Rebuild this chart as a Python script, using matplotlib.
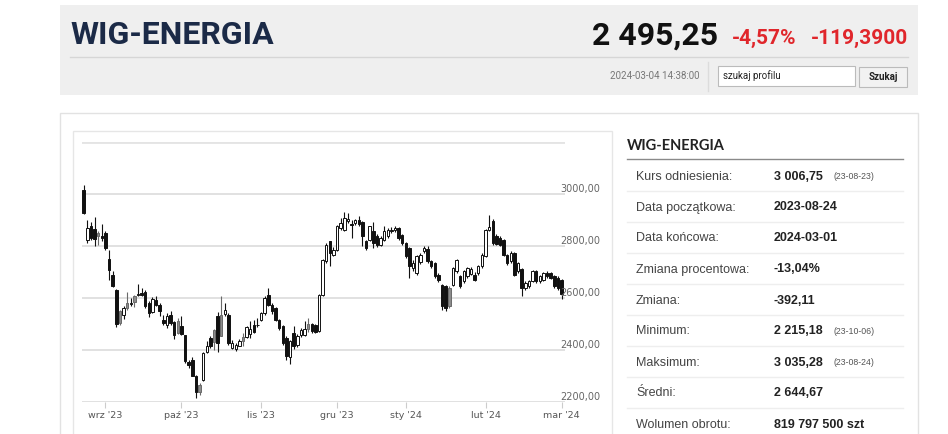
import pandas as pd
import matplotlib
matplotlib.use('Agg')
import matplotlib.pyplot as plt
from matplotlib.patches import Rectangle
from matplotlib.lines import Line2D

W, H = 948, 434

# notowania dzienne WIG-ENERGIA
opens = [3017, 2824, 2876, 2867, 2850, 2840, 2850, 2750, 2690, 2632,
         2549, 2536, 2581, 2576, 2606, 2612, 2619, 2623, 2581, 2546,
         2594, 2575, 2517, 2497, 2536, 2506, 2510, 2491, 2456, 2354,
         2363, 2301, 2267, 2283, 2391, 2446, 2478, 2530, 2536, 2540,
         2536, 2408, 2402, 2417, 2450, 2450, 2462, 2497, 2495, 2517,
         2542, 2613, 2574, 2561, 2517, 2491, 2446, 2372, 2465, 2418,
         2459, 2459, 2501, 2501, 2498, 2472, 2613, 2741, 2818, 2766,
         2786, 2869, 2863, 2895, 2885, 2889, 2899, 2891, 2818, 2824,
         2856, 2837, 2805, 2824, 2837, 2857, 2863, 2869, 2844, 2811,
         2792, 2715, 2696, 2740, 2779, 2788, 2741, 2735, 2690, 2651,
         2645, 2638, 2651, 2702, 2683, 2664, 2683, 2694, 2690, 2696,
         2722, 2763, 2863, 2895, 2837, 2831, 2824, 2767, 2741, 2773,
         2702, 2712, 2638, 2645, 2664, 2702, 2664, 2670, 2696, 2696,
         2683, 2677, 2670]
highs = [3035.28, 2901, 2891, 2912, 2856, 2885, 2856, 2783, 2702, 2635,
         2555, 2568, 2623, 2600, 2613, 2655, 2638, 2632, 2587, 2604,
         2606, 2580, 2536, 2542, 2549, 2510, 2523, 2529, 2459, 2363,
         2373, 2303, 2272, 2391, 2433, 2453, 2481, 2545, 2609, 2581,
         2542, 2440, 2427, 2442, 2465, 2491, 2510, 2514, 2523, 2548,
         2606, 2638, 2580, 2566, 2520, 2495, 2452, 2440, 2491, 2460,
         2485, 2510, 2523, 2505, 2501, 2615, 2750, 2810, 2820, 2795,
         2880, 2908, 2930, 2927, 2901, 2905, 2917, 2897, 2822, 2878,
         2891, 2845, 2838, 2876, 2870, 2873, 2878, 2873, 2848, 2815,
         2798, 2745, 2765, 2775, 2801, 2800, 2745, 2740, 2695, 2655,
         2650, 2645, 2718, 2750, 2690, 2706, 2720, 2718, 2700, 2728,
         2775, 2866, 2920, 2905, 2845, 2840, 2828, 2770, 2779, 2778,
         2740, 2716, 2665, 2670, 2708, 2706, 2690, 2700, 2702, 2700,
         2690, 2683, 2675]
lows = [2924, 2812, 2824, 2799, 2805, 2820, 2786, 2668, 2641, 2488,
        2497, 2519, 2555, 2568, 2565, 2606, 2606, 2561, 2527, 2542,
        2568, 2530, 2497, 2485, 2497, 2442, 2463, 2458, 2350, 2331,
        2299, 2215.18, 2228, 2280, 2388, 2408, 2401, 2391, 2452, 2529,
        2420, 2404, 2396, 2414, 2417, 2446, 2446, 2467, 2488, 2510,
        2536, 2568, 2540, 2510, 2478, 2420, 2363, 2346, 2405, 2410,
        2450, 2452, 2470, 2465, 2465, 2470, 2608, 2735, 2724, 2760,
        2780, 2862, 2858, 2888, 2831, 2880, 2878, 2801, 2786, 2818,
        2792, 2798, 2800, 2818, 2830, 2850, 2855, 2825, 2805, 2755,
        2677, 2705, 2690, 2730, 2772, 2735, 2715, 2678, 2660, 2555,
        2550, 2560, 2645, 2698, 2638, 2658, 2678, 2688, 2665, 2690,
        2716, 2758, 2858, 2805, 2803, 2800, 2760, 2728, 2735, 2685,
        2698, 2606, 2630, 2638, 2660, 2658, 2658, 2665, 2678, 2672,
        2640, 2632, 2596]
closes = [2927, 2869, 2831, 2828, 2837, 2832, 2792, 2709, 2645, 2500,
          2503, 2562, 2563, 2580, 2583, 2617, 2610, 2568, 2542, 2597,
          2575, 2549, 2504, 2529, 2504, 2459, 2466, 2462, 2356, 2344,
          2301, 2237, 2240, 2388, 2417, 2414, 2430, 2427, 2453, 2555,
          2427, 2427, 2420, 2433, 2434, 2488, 2480, 2471, 2497, 2542,
          2600, 2574, 2549, 2517, 2485, 2427, 2376, 2433, 2414, 2452,
          2478, 2480, 2482, 2472, 2470, 2613, 2747, 2805, 2773, 2786,
          2876, 2888, 2908, 2905, 2880, 2901, 2884, 2837, 2792, 2876,
          2811, 2805, 2831, 2856, 2863, 2863, 2869, 2831, 2811, 2763,
          2722, 2735, 2760, 2767, 2792, 2741, 2722, 2683, 2670, 2568,
          2562, 2570, 2715, 2747, 2645, 2702, 2715, 2712, 2670, 2722,
          2767, 2863, 2872, 2811, 2809, 2805, 2767, 2735, 2773, 2690,
          2735, 2638, 2658, 2664, 2702, 2664, 2683, 2696, 2683, 2677,
          2645, 2638, 2614.64]
ref_close = 3006.75

holidays = ['2023-11-01', '2023-12-25', '2023-12-26', '2024-01-01']
dates = pd.bdate_range('2023-08-24', '2024-03-01')
dates = dates[~dates.isin(pd.to_datetime(holidays))]

month_labels = ["wrz '23", "paź '23", "lis '23", "gru '23", "sty '24", "lut '24", "mar '24"]
y_levels = [2200, 2400, 2600, 2800, 3000]
y_labels = ['2200,00', '2400,00', '2600,00', '2800,00', '3000,00']

stat_labels = ['Kurs odniesienia:', 'Data początkowa:', 'Data końcowa:', 'Zmiana procentowa:',
               'Zmiana:', 'Minimum:', 'Maksimum:', 'Średni:', 'Wolumen obrotu:']
stat_values = ['3 006,75', '2023-08-24', '2024-03-01', '-13,04%', '-392,11',
               '2 215,18', '3 035,28', '2 644,67', '819 797 500 szt']
stat_notes = ['(23-08-23)', '', '', '', '', '(23-10-06)', '(23-08-24)', '', '']

fig = plt.figure(figsize=(W / 100, H / 100), dpi=100)
fig.patch.set_facecolor('white')


def box(x0, y0, x1, y1, **kw):
    fig.patches.append(Rectangle((x0 / W, 1 - y1 / H), (x1 - x0) / W, (y1 - y0) / H,
                                 transform=fig.transFigure, **kw))


def line(x0, x1, y0, y1, **kw):
    fig.add_artist(Line2D([x0 / W, x1 / W], [1 - y0 / H, 1 - y1 / H],
                          transform=fig.transFigure, **kw))


def txt(x, y, s, **kw):
    fig.text(x / W, 1 - y / H, s, **kw)


# naglowek
box(60, 5, 918, 95, facecolor='#efefef', edgecolor='none')
line(70, 908, 57, 57, color='#d6d6d6', lw=1)
txt(70, 44, 'WIG-ENERGIA', fontsize=23, fontweight='bold', family='Roboto',
    color='#1b2a47', va='baseline')
txt(718, 45, '2 495,25', fontsize=23, fontweight='bold', family='Roboto',
    color='#111111', va='baseline', ha='right')
txt(732, 43.5, '-4,57%', fontsize=15, fontweight='bold', family='Roboto',
    color='#e0262b', va='baseline')
txt(908, 43.5, '-119,3900', fontsize=15, fontweight='bold', family='Roboto',
    color='#e0262b', va='baseline', ha='right')
txt(700, 79, '2024-03-04 14:38:00', fontsize=7, family='Roboto', color='#777777',
    va='baseline', ha='right')
line(708, 708, 62, 91, color='#dcdcdc', lw=1)
box(718, 66, 855, 86, facecolor='white', edgecolor='#bbbbbb', lw=0.8)
txt(723, 79, 'szukaj profilu', fontsize=7, family='Roboto', color='#222222', va='baseline')
box(859, 67, 907, 87, facecolor='#f2f2f2', edgecolor='#bbbbbb', lw=0.8)
txt(883, 80.5, 'Szukaj', fontsize=7, fontweight='bold', family='Roboto', color='#222222',
    va='baseline', ha='center')

# panel glowny i ramka wykresu
box(60, 113, 918, 440, facecolor='none', edgecolor='#e2e2e2', lw=1)
box(73, 131, 612, 440, facecolor='none', edgecolor='#e6e6e6', lw=1)

ax = fig.add_axes([82 / W, 1 - 402 / H, 483 / W, 260 / H])
ax.set_xlim(-0.47, 132.96)
ax.set_ylim(2200, 3200)
for s in ax.spines.values():
    s.set_visible(False)
ax.set_yticks([])
for v in y_levels:
    ax.axhline(v, color='#d9d9d9', lw=1.1, zorder=0)
ax.axhline(3200, color='#e4e4e4', lw=2, zorder=0)

month_pos = [k for k in range(1, len(dates)) if dates[k].month != dates[k - 1].month]
ax.set_xticks(month_pos, month_labels)
ax.tick_params(axis='x', length=4.5, width=0.8, color='#cccccc', labelcolor='#555555',
               labelsize=6.8, pad=2)

for v, lab in zip(y_levels, y_labels):
    ax.text(1 + 35 / 483, v + 7, lab, transform=ax.get_yaxis_transform(), ha='right',
            va='baseline', fontsize=7, color='#666666', clip_on=False, zorder=5)

x = list(range(len(closes)))
faces, edges, bottoms, heights = [], [], [], []
prev = ref_close
for o, c in zip(opens, closes):
    if c >= o:
        faces.append('white')
        edges.append('#111111')
    elif c >= prev:
        faces.append('#8c8c8c')
        edges.append('#6a6a6a')
    else:
        faces.append('#111111')
        edges.append('#111111')
    bottoms.append(min(o, c))
    heights.append(max(abs(c - o), 3))
    prev = c

ax.vlines(x, lows, highs, colors=edges, lw=0.8, zorder=2)
ax.bar(x, heights, bottom=bottoms, width=0.68, color=faces, edgecolor=edges,
       linewidth=0.7, zorder=3)

# tabela po prawej
txt(627, 149.5, 'WIG-ENERGIA', fontsize=10.5, fontweight='bold', family='Lato',
    color='#222222', va='baseline')
line(627, 903, 159, 159, color='#8a8a8a', lw=1)
for k, (lab, val, note) in enumerate(zip(stat_labels, stat_values, stat_notes)):
    yc = 175.5 + 31 * k
    txt(636, yc + 4, lab, fontsize=9, family='Liberation Sans', color='#444444', va='baseline')
    txt(774, yc + 4, val, fontsize=9, fontweight='bold', family='Liberation Sans',
        color='#222222', va='baseline')
    if note:
        txt(833, yc + 3.5, note, fontsize=6.3, family='Liberation Sans', color='#555555',
            va='baseline')
    if k < len(stat_labels) - 1:
        line(627, 903, yc + 15.5, yc + 15.5, color='#eeeeee', lw=1)

fig.savefig('out.png', dpi=100)
